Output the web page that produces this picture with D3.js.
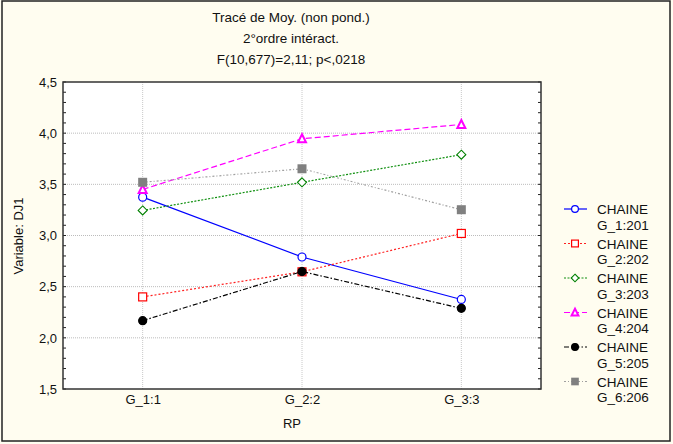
<!DOCTYPE html>
<html><head><meta charset="utf-8">
<script src="https://cdn.jsdelivr.net/npm/d3@7"></script>
<style>
html,body{margin:0;padding:0;background:#fff;}
text{font-family:"Liberation Sans",Arial,sans-serif;fill:#111;}
</style></head>
<body><svg id="c" width="673" height="444"></svg>
<script>
const titleLines = ["Tracé de Moy. (non pond.)", "2°ordre intéract.", "F(10,677)=2,11; p<,0218"];
const categories = ["G_1:1", "G_2:2", "G_3:3"];
const yTicks = [1.5, 2.0, 2.5, 3.0, 3.5, 4.0, 4.5];
const seriesNames = ["CHAINE\nG_1:201", "CHAINE\nG_2:202", "CHAINE\nG_3:203", "CHAINE\nG_4:204", "CHAINE\nG_5:205", "CHAINE\nG_6:206"];
const g1 = [3.375, 2.79, 2.375];
const g2 = [2.40, 2.645, 3.02];
const g3 = [3.245, 3.52, 3.79];
const g4 = [3.45, 3.945, 4.085];
const g5 = [2.168, 2.648, 2.288];
const g6 = [3.52, 3.652, 3.252];
const xLabel = "RP";
const yLabel = "Variable: DJ1";

const seriesValues = [g1, g2, g3, g4, g5, g6];
const styles = [
  {color:"#0000ff", line:"#0000ff", dash:null, marker:"circle", fill:"#fff"},
  {color:"#ff0000", line:"#ff2020", dash:"2,2", marker:"square", fill:"#fff"},
  {color:"#008000", line:"#109010", dash:"2,1.5", marker:"diamond", fill:"#fff"},
  {color:"#ff00ff", line:"#ff00ff", dash:"6,3", marker:"triangle", fill:"#fff"},
  {color:"#000000", line:"#000", dash:"5,2,1.5,2", marker:"circle", fill:"#000"},
  {color:"#808080", line:"#a0a0a0", dash:"2,2,1,2", marker:"square", fill:"#808080"}
];

const svg = d3.select("#c");
svg.append("rect").attr("x",0).attr("y",0).attr("width",673).attr("height",444).attr("fill","#fffdf0");
svg.append("rect").attr("x",2).attr("y",1).attr("width",668).attr("height",440)
  .attr("fill","none").attr("stroke","#222").attr("stroke-width",1.5);

const L=63, R=541, T=82, B=389;
const x = d3.scalePoint().domain(categories).range([L,R]).padding(0.5);
const y = d3.scaleLinear().domain([1.5,4.5]).range([B,T]);

svg.append("rect").attr("x",L).attr("y",T).attr("width",R-L).attr("height",B-T).attr("fill","#fff");

// gridlines
const grid = svg.append("g");
grid.selectAll("line.h").data(yTicks.slice(1,-1)).join("line")
  .attr("x1",L).attr("x2",R).attr("y1",d=>y(d)).attr("y2",d=>y(d))
  .attr("stroke","#bcbcbc").attr("stroke-dasharray","1,1");
grid.selectAll("line.v").data(categories).join("line")
  .attr("x1",d=>x(d)).attr("x2",d=>x(d)).attr("y1",T).attr("y2",B)
  .attr("stroke","#c8c8c8").attr("stroke-dasharray","1,1");

// minor ticks inside on both sides
const minor = d3.range(15,46).map(v=>v/10);
svg.append("g").selectAll("line").data(minor).join("line")
  .attr("x1",L).attr("x2",L+3).attr("y1",d=>y(d)).attr("y2",d=>y(d)).attr("stroke","#222");
svg.append("g").selectAll("line").data(minor).join("line")
  .attr("x1",R-3).attr("x2",R).attr("y1",d=>y(d)).attr("y2",d=>y(d)).attr("stroke","#222");

// axes
const fmt = d=>d3.format(".1f")(d).replace(".",",");
const yAxis = svg.append("g").attr("transform",`translate(${L},0)`)
  .call(d3.axisLeft(y).tickValues(yTicks).tickFormat(fmt).tickSize(0).tickPadding(6));
yAxis.select(".domain").remove();
yAxis.selectAll("text").attr("font-size",13).style("font-family","Liberation Sans, Arial, sans-serif").style("fill","#111");
const xAxis = svg.append("g").attr("transform",`translate(0,${B})`)
  .call(d3.axisBottom(x).tickSize(0).tickPadding(6));
xAxis.select(".domain").remove();
xAxis.selectAll("text").attr("font-size",13).style("font-family","Liberation Sans, Arial, sans-serif").style("fill","#111");

svg.append("rect").attr("x",L).attr("y",T).attr("width",R-L).attr("height",B-T)
  .attr("fill","none").attr("stroke","#333").attr("stroke-width",1.5);

// titles
svg.append("g").selectAll("text").data(titleLines).join("text")
  .attr("x",291).attr("y",(d,i)=>22+i*21).attr("text-anchor","middle").attr("font-size",13.5).text(d=>d);
svg.append("text").attr("x",292).attr("y",428).attr("text-anchor","middle").attr("font-size",13).text(xLabel);
svg.append("text").attr("transform","translate(23,236) rotate(-90)").attr("text-anchor","middle").attr("font-size",13).text(yLabel);

function drawMarker(g, type, cx, cy, s, sc){
  const k = sc || 1;
  if(type==="circle"){
    g.append("circle").attr("cx",cx).attr("cy",cy).attr("r",4*k).attr("fill",s.fill).attr("stroke",s.color).attr("stroke-width",1.2);
  } else if(type==="square"){
    const h = (s.fill==="#fff"?4:4.5)*k;
    g.append("rect").attr("x",cx-h).attr("y",cy-h).attr("width",2*h).attr("height",2*h).attr("fill",s.fill).attr("stroke",s.color).attr("stroke-width",s.fill==="#fff"?1.2:0);
  } else if(type==="diamond"){
    const h=4.5*k;
    g.append("path").attr("d",`M${cx},${cy-h}L${cx+h},${cy}L${cx},${cy+h}L${cx-h},${cy}Z`).attr("fill",s.fill).attr("stroke",s.color).attr("stroke-width",1.1);
  } else if(type==="triangle"){
    g.append("path").attr("d",`M${cx},${cy-4.5*k}L${cx+4*k},${cy+3.5*k}L${cx-4*k},${cy+3.5*k}Z`).attr("fill",s.fill).attr("stroke",s.color).attr("stroke-width",2);
  }
}

const line = d3.line().x((d,i)=>x(categories[i])).y(d=>y(d));
seriesValues.forEach((vals,si)=>{
  const s = styles[si];
  const g = svg.append("g");
  g.append("path").attr("d",line(vals)).attr("fill","none").attr("stroke",s.line).attr("stroke-width",1.2)
    .attr("stroke-dasharray",s.dash);
  vals.forEach((v,i)=>drawMarker(g,s.marker,x(categories[i]),y(v),s));
});

// legend
const leg = svg.append("g");
seriesNames.forEach((name,si)=>{
  const s = styles[si];
  const cy = 209 + si*34.5;
  const g = leg.append("g");
  g.append("line").attr("x1",564).attr("x2",587).attr("y1",cy).attr("y2",cy).attr("stroke",s.line).attr("stroke-width",1.2).attr("stroke-dasharray",s.dash);
  drawMarker(g,s.marker,575,cy,s,0.85);
  const parts = name.split("\n");
  parts.forEach((p,j)=>{
    g.append("text").attr("x",597).attr("y",cy+5+j*15.5).attr("font-size",13.5).text(p);
  });
});
</script></body></html>
